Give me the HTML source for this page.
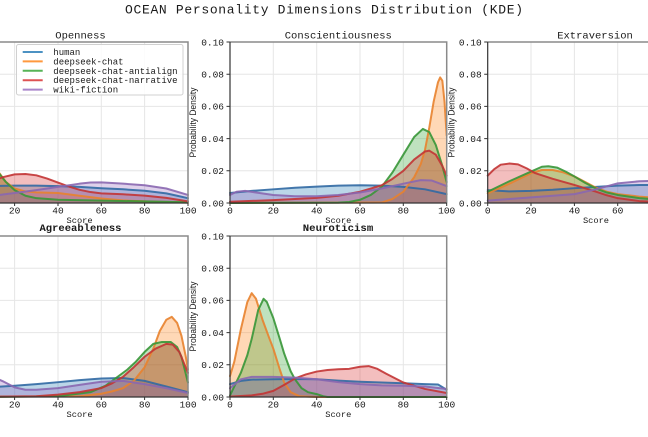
<!DOCTYPE html>
<html><head><meta charset="utf-8"><style>
html,body{margin:0;padding:0;background:#fff;}
svg{display:block;}
.t{font-family:"Liberation Mono",monospace;fill:#1a1a1a;}
.yl{font-family:"Liberation Sans",sans-serif;fill:#1a1a1a;font-size:9px;}
.g line{stroke:#e6e6e6;stroke-width:1;}
.f{fill-opacity:.3;stroke:none;}
.l{fill:none;stroke-width:2;stroke-opacity:.9;stroke-linejoin:round;stroke-linecap:round;}
.fb{fill:#1f77b4;} .fo{fill:#ff7f0e;} .fg{fill:#2ca02c;} .fr{fill:#d62728;} .fp{fill:#9467bd;}
.lb{stroke:#3169a3;} .lo{stroke:#e8822e;} .lg{stroke:#379637;} .lr{stroke:#c23434;} .lp{stroke:#8a67b0;}
</style></head><body>
<svg width="648" height="437" viewBox="0 0 648 437" xmlns="http://www.w3.org/2000/svg">
<rect width="648" height="437" fill="#fff"/>
<text class="t" x="324" y="13.5" font-size="13" text-anchor="middle" textLength="398" lengthAdjust="spacing">OCEAN Personality Dimensions Distribution (KDE)</text>

<!-- grids -->
<g class="g">
<line x1="14.6" y1="42" x2="14.6" y2="203"/><line x1="58" y1="42" x2="58" y2="203"/><line x1="101.3" y1="42" x2="101.3" y2="203"/><line x1="144.6" y1="42" x2="144.6" y2="203"/>
<line x1="0" y1="170.8" x2="188" y2="170.8"/><line x1="0" y1="138.6" x2="188" y2="138.6"/><line x1="0" y1="106.4" x2="188" y2="106.4"/><line x1="0" y1="74.2" x2="188" y2="74.2"/>
<line x1="273.3" y1="42" x2="273.3" y2="203"/><line x1="316.7" y1="42" x2="316.7" y2="203"/><line x1="360" y1="42" x2="360" y2="203"/><line x1="403.3" y1="42" x2="403.3" y2="203"/>
<line x1="230" y1="170.8" x2="446.7" y2="170.8"/><line x1="230" y1="138.6" x2="446.7" y2="138.6"/><line x1="230" y1="106.4" x2="446.7" y2="106.4"/><line x1="230" y1="74.2" x2="446.7" y2="74.2"/>
<line x1="531" y1="42" x2="531" y2="203"/><line x1="574.4" y1="42" x2="574.4" y2="203"/><line x1="617.7" y1="42" x2="617.7" y2="203"/><line x1="661" y1="42" x2="661" y2="203"/>
<line x1="487.7" y1="170.8" x2="648" y2="170.8"/><line x1="487.7" y1="138.6" x2="648" y2="138.6"/><line x1="487.7" y1="106.4" x2="648" y2="106.4"/><line x1="487.7" y1="74.2" x2="648" y2="74.2"/>
<line x1="14.6" y1="236" x2="14.6" y2="397"/><line x1="58" y1="236" x2="58" y2="397"/><line x1="101.3" y1="236" x2="101.3" y2="397"/><line x1="144.6" y1="236" x2="144.6" y2="397"/>
<line x1="0" y1="364.8" x2="188" y2="364.8"/><line x1="0" y1="332.6" x2="188" y2="332.6"/><line x1="0" y1="300.4" x2="188" y2="300.4"/><line x1="0" y1="268.2" x2="188" y2="268.2"/>
<line x1="273.3" y1="236" x2="273.3" y2="397"/><line x1="316.7" y1="236" x2="316.7" y2="397"/><line x1="360" y1="236" x2="360" y2="397"/><line x1="403.3" y1="236" x2="403.3" y2="397"/>
<line x1="230" y1="364.8" x2="446.7" y2="364.8"/><line x1="230" y1="332.6" x2="446.7" y2="332.6"/><line x1="230" y1="300.4" x2="446.7" y2="300.4"/><line x1="230" y1="268.2" x2="446.7" y2="268.2"/>
</g>

<!-- Openness -->
<g>
<polygon class="f fb" points="-28.7,203 -28.7,186.9 -7.03,186.09 14.63,185.61 36.3,185.61 57.97,186.09 79.63,186.9 101.3,188.19 122.97,189.31 144.63,190.76 166.3,193.34 177.13,195.75 187.97,198.17 187.97,203"/>
<polygon class="f fo" points="-28.7,203 -28.7,154.7 -17.87,161.14 -7.03,167.58 -0.53,173.21 5.97,182.07 14.63,188.51 25.47,191.41 36.3,192.37 57.97,193.02 79.63,195.75 101.3,198.49 122.97,200.42 144.63,201.39 166.3,202.2 187.97,202.68 187.97,203"/>
<polygon class="f fg" points="-28.7,203 -28.7,146.65 -17.87,156.31 -7.03,165.97 -0.53,174.02 5.97,182.07 14.63,190.12 25.47,195.75 36.3,198.17 57.97,199.78 101.3,200.58 144.63,201.39 187.97,202.2 187.97,203"/>
<polygon class="f fr" points="-28.7,203 -28.7,186.9 -17.87,183.68 -7.03,180.46 3.8,176.92 14.63,174.34 25.47,174.02 36.3,175.31 47.13,178.53 57.97,182.55 68.8,186.58 79.63,189.8 90.47,192.05 101.3,193.34 122.97,194.31 144.63,195.59 166.3,197.85 187.97,201.39 187.97,203"/>
<polygon class="f fp" points="-28.7,203 -28.7,198.17 -7.03,195.75 14.63,193.02 36.3,190.12 57.97,186.9 79.63,183.68 90.47,182.55 101.3,182.39 122.97,183.68 144.63,185.29 166.3,188.51 187.97,194.95 187.97,203"/>
<polyline class="l lb" points="-28.7,186.9 -7.03,186.09 14.63,185.61 36.3,185.61 57.97,186.09 79.63,186.9 101.3,188.19 122.97,189.31 144.63,190.76 166.3,193.34 177.13,195.75 187.97,198.17"/>
<polyline class="l lo" points="-28.7,154.7 -17.87,161.14 -7.03,167.58 -0.53,173.21 5.97,182.07 14.63,188.51 25.47,191.41 36.3,192.37 57.97,193.02 79.63,195.75 101.3,198.49 122.97,200.42 144.63,201.39 166.3,202.2 187.97,202.68"/>
<polyline class="l lg" points="-28.7,146.65 -17.87,156.31 -7.03,165.97 -0.53,174.02 5.97,182.07 14.63,190.12 25.47,195.75 36.3,198.17 57.97,199.78 101.3,200.58 144.63,201.39 187.97,202.2"/>
<polyline class="l lr" points="-28.7,186.9 -17.87,183.68 -7.03,180.46 3.8,176.92 14.63,174.34 25.47,174.02 36.3,175.31 47.13,178.53 57.97,182.55 68.8,186.58 79.63,189.8 90.47,192.05 101.3,193.34 122.97,194.31 144.63,195.59 166.3,197.85 187.97,201.39"/>
<polyline class="l lp" points="-28.7,198.17 -7.03,195.75 14.63,193.02 36.3,190.12 57.97,186.9 79.63,183.68 90.47,182.55 101.3,182.39 122.97,183.68 144.63,185.29 166.3,188.51 187.97,194.95"/>
</g>

<!-- Conscientiousness -->
<g>
<polygon class="f fb" points="230,203 230,193.02 251.67,190.92 273.33,189.31 295,187.7 316.67,186.58 338.33,185.61 360,185.29 381.67,185.61 403.33,186.9 425,189.31 446.67,194.14 446.67,203"/>
<polygon class="f fo" points="230,203 381.67,202.52 392.5,198.97 403.33,191.73 414.17,177.24 420.67,164.36 425,149.87 429.33,127.33 433.67,101.57 438,82.25 440.17,77.42 442.33,80.64 444.5,101.57 446.67,135.38 446.67,203"/>
<polygon class="f fg" points="230,203 338.33,202.68 349.17,202.03 360,199.78 370.83,194.95 381.67,186.9 392.5,172.41 403.33,154.7 414.17,136.99 422.83,128.94 429.33,132.16 435.83,145.04 442.33,165.97 446.67,182.07 446.67,203"/>
<polygon class="f fr" points="230,203 230,201.71 273.33,200.1 316.67,197.85 338.33,195.75 360,191.73 381.67,185.29 392.5,178.85 403.33,170.8 414.17,159.53 425,151.48 429.33,150.67 435.83,154.7 442.33,165.97 446.67,175.63 446.67,203"/>
<polygon class="f fp" points="230,203 230,194.95 236.5,191.73 245.17,190.92 256,192.53 273.33,194.95 295,196.24 316.67,196.24 338.33,194.95 360,192.53 381.67,188.51 403.33,183.68 420.67,180.14 431.5,180.46 446.67,186.09 446.67,203"/>
<polyline class="l lb" points="230,193.02 251.67,190.92 273.33,189.31 295,187.7 316.67,186.58 338.33,185.61 360,185.29 381.67,185.61 403.33,186.9 425,189.31 446.67,194.14"/>
<polyline class="l lo" points="230,203 381.67,202.52 392.5,198.97 403.33,191.73 414.17,177.24 420.67,164.36 425,149.87 429.33,127.33 433.67,101.57 438,82.25 440.17,77.42 442.33,80.64 444.5,101.57 446.67,135.38"/>
<polyline class="l lg" points="230,203 338.33,202.68 349.17,202.03 360,199.78 370.83,194.95 381.67,186.9 392.5,172.41 403.33,154.7 414.17,136.99 422.83,128.94 429.33,132.16 435.83,145.04 442.33,165.97 446.67,182.07"/>
<polyline class="l lr" points="230,201.71 273.33,200.1 316.67,197.85 338.33,195.75 360,191.73 381.67,185.29 392.5,178.85 403.33,170.8 414.17,159.53 425,151.48 429.33,150.67 435.83,154.7 442.33,165.97 446.67,175.63"/>
<polyline class="l lp" points="230,194.95 236.5,191.73 245.17,190.92 256,192.53 273.33,194.95 295,196.24 316.67,196.24 338.33,194.95 360,192.53 381.67,188.51 403.33,183.68 420.67,180.14 431.5,180.46 446.67,186.09"/>
</g>

<!-- Extraversion -->
<g>
<polygon class="f fb" points="487.7,203 487.7,190.12 509.37,191.41 531.03,190.92 552.7,189.8 574.37,188.19 596.03,186.9 617.7,185.61 639.37,184.97 661.03,184.97 682.7,186.9 704.37,191.73 704.37,203"/>
<polygon class="f fo" points="487.7,203 487.7,193.34 509.37,183.68 531.03,173.21 541.87,170 552.7,170 563.53,172.41 574.37,176.43 585.2,182.07 596.03,187.7 606.87,191.73 617.7,194.14 639.37,196.56 661.03,198.17 682.7,199.78 704.37,201.39 704.37,203"/>
<polygon class="f fg" points="487.7,203 487.7,191.73 509.37,181.26 531.03,171.6 541.87,166.77 548.37,166.29 557.03,167.58 565.7,171.6 574.37,176.43 585.2,182.87 596.03,188.51 606.87,192.53 617.7,194.95 639.37,198.17 661.03,199.78 704.37,201.39 704.37,203"/>
<polygon class="f fr" points="487.7,203 487.7,175.63 494.2,169.19 500.7,164.68 509.37,163.55 518.03,164.36 526.7,168.38 535.37,173.21 552.7,178.85 574.37,184.97 596.03,191.73 606.87,195.27 617.7,198.17 639.37,201.07 661.03,202.2 704.37,203"/>
<polygon class="f fp" points="487.7,203 487.7,200.58 509.37,198.97 531.03,197.36 552.7,195.75 574.37,194.14 596.03,189.31 617.7,183.36 639.37,181.26 661.03,180.46 682.7,182.07 704.37,188.51 704.37,203"/>
<polyline class="l lb" points="487.7,190.12 509.37,191.41 531.03,190.92 552.7,189.8 574.37,188.19 596.03,186.9 617.7,185.61 639.37,184.97 661.03,184.97 682.7,186.9 704.37,191.73"/>
<polyline class="l lo" points="487.7,193.34 509.37,183.68 531.03,173.21 541.87,170 552.7,170 563.53,172.41 574.37,176.43 585.2,182.07 596.03,187.7 606.87,191.73 617.7,194.14 639.37,196.56 661.03,198.17 682.7,199.78 704.37,201.39"/>
<polyline class="l lg" points="487.7,191.73 509.37,181.26 531.03,171.6 541.87,166.77 548.37,166.29 557.03,167.58 565.7,171.6 574.37,176.43 585.2,182.87 596.03,188.51 606.87,192.53 617.7,194.95 639.37,198.17 661.03,199.78 704.37,201.39"/>
<polyline class="l lr" points="487.7,175.63 494.2,169.19 500.7,164.68 509.37,163.55 518.03,164.36 526.7,168.38 535.37,173.21 552.7,178.85 574.37,184.97 596.03,191.73 606.87,195.27 617.7,198.17 639.37,201.07 661.03,202.2 704.37,203"/>
<polyline class="l lp" points="487.7,200.58 509.37,198.97 531.03,197.36 552.7,195.75 574.37,194.14 596.03,189.31 617.7,183.36 639.37,181.26 661.03,180.46 682.7,182.07 704.37,188.51"/>
</g>

<!-- Agreeableness -->
<g>
<polygon class="f fb" points="-28.7,397 -28.7,388.14 -7.03,387.02 14.63,385.73 36.3,384.12 57.97,382.19 79.63,380.09 101.3,378.48 122.97,378 144.63,380.9 166.3,386.53 187.97,392.17 187.97,397"/>
<polygon class="f fo" points="-28.7,397 79.63,396.2 101.3,393.78 112.13,391.36 122.97,388.14 133.8,380.9 144.63,367.21 153.3,348.7 159.8,330.99 166.3,319.72 171.72,316.82 177.13,322.94 181.47,335.82 185.8,356.75 187.97,369.63 187.97,397"/>
<polygon class="f fg" points="-28.7,397 57.97,396.2 90.47,392.17 105.63,385.73 116.47,377.68 127.3,369.63 135.97,361.58 144.63,351.92 153.3,343.87 161.97,341.94 170.63,341.94 177.13,347.09 181.47,356.75 187.97,382.51 187.97,397"/>
<polygon class="f fr" points="-28.7,397 36.3,396.2 57.97,394.58 79.63,392.17 101.3,388.14 112.13,383.31 122.97,376.87 133.8,367.21 144.63,356.75 155.47,348.7 166.3,343.87 172.8,344.67 179.3,351.92 187.97,372.85 187.97,397"/>
<polygon class="f fp" points="-28.7,397 -28.7,376.07 -17.87,375.26 -7.03,376.87 3.8,381.7 14.63,387.34 25.47,389.75 36.3,389.75 57.97,388.14 79.63,384.92 101.3,381.7 122.97,380.9 144.63,384.12 166.3,388.14 187.97,392.97 187.97,397"/>
<polyline class="l lb" points="-28.7,388.14 -7.03,387.02 14.63,385.73 36.3,384.12 57.97,382.19 79.63,380.09 101.3,378.48 122.97,378 144.63,380.9 166.3,386.53 187.97,392.17"/>
<polyline class="l lo" points="-28.7,397 79.63,396.2 101.3,393.78 112.13,391.36 122.97,388.14 133.8,380.9 144.63,367.21 153.3,348.7 159.8,330.99 166.3,319.72 171.72,316.82 177.13,322.94 181.47,335.82 185.8,356.75 187.97,369.63"/>
<polyline class="l lg" points="-28.7,397 57.97,396.2 90.47,392.17 105.63,385.73 116.47,377.68 127.3,369.63 135.97,361.58 144.63,351.92 153.3,343.87 161.97,341.94 170.63,341.94 177.13,347.09 181.47,356.75 187.97,382.51"/>
<polyline class="l lr" points="-28.7,397 36.3,396.2 57.97,394.58 79.63,392.17 101.3,388.14 112.13,383.31 122.97,376.87 133.8,367.21 144.63,356.75 155.47,348.7 166.3,343.87 172.8,344.67 179.3,351.92 187.97,372.85"/>
<polyline class="l lp" points="-28.7,376.07 -17.87,375.26 -7.03,376.87 3.8,381.7 14.63,387.34 25.47,389.75 36.3,389.75 57.97,388.14 79.63,384.92 101.3,381.7 122.97,380.9 144.63,384.12 166.3,388.14 187.97,392.97"/>
</g>

<!-- Neuroticism -->
<g>
<polygon class="f fb" points="230,397 230,384.12 240.83,380.9 251.67,379.61 273.33,379.29 295,378.97 316.67,379.29 338.33,380.58 360,381.7 381.67,382.51 403.33,383.31 425,384.12 438,384.44 446.67,389.75 446.67,397"/>
<polygon class="f fo" points="230,397 230,376.07 234.33,361.58 240.83,329.38 247.33,302.01 251.67,293.15 256,298.79 262.5,319.72 269,337.43 273.33,348.7 279.83,369.63 284.17,382.51 290.67,392.17 299.33,396.2 316.67,397"/>
<polygon class="f fg" points="230,397 230,395.39 240.83,372.85 247.33,355.14 251.67,339.04 258.17,310.06 263.58,298.79 266.83,302.01 273.33,318.11 279.83,339.04 284.17,353.53 290.67,371.24 295,379.29 301.5,388.14 308,392.17 316.67,394.1 323.17,396.2 327.5,397"/>
<polygon class="f fr" points="230,397 230,396.68 251.67,395.39 262.5,393.78 273.33,390.88 284.17,384.92 295,378.48 305.83,374.46 316.67,371.56 327.5,369.95 338.33,369.31 349.17,368.82 360,366.73 368.67,366.09 377.33,368.82 386,373.65 403.33,382.51 425,388.95 446.67,392.97 446.67,397"/>
<polygon class="f fp" points="230,397 230,388.14 240.83,379.29 251.67,376.87 273.33,376.87 295,377.68 316.67,379.29 338.33,382.19 360,384.12 381.67,385.41 403.33,385.73 425,386.53 446.67,388.95 446.67,397"/>
<polyline class="l lb" points="230,384.12 240.83,380.9 251.67,379.61 273.33,379.29 295,378.97 316.67,379.29 338.33,380.58 360,381.7 381.67,382.51 403.33,383.31 425,384.12 438,384.44 446.67,389.75"/>
<polyline class="l lo" points="230,376.07 234.33,361.58 240.83,329.38 247.33,302.01 251.67,293.15 256,298.79 262.5,319.72 269,337.43 273.33,348.7 279.83,369.63 284.17,382.51 290.67,392.17 299.33,396.2 316.67,397 446.67,397"/>
<polyline class="l lg" points="230,395.39 240.83,372.85 247.33,355.14 251.67,339.04 258.17,310.06 263.58,298.79 266.83,302.01 273.33,318.11 279.83,339.04 284.17,353.53 290.67,371.24 295,379.29 301.5,388.14 308,392.17 316.67,394.1 323.17,396.2 327.5,397 446.67,397"/>
<polyline class="l lr" points="230,396.68 251.67,395.39 262.5,393.78 273.33,390.88 284.17,384.92 295,378.48 305.83,374.46 316.67,371.56 327.5,369.95 338.33,369.31 349.17,368.82 360,366.73 368.67,366.09 377.33,368.82 386,373.65 403.33,382.51 425,388.95 446.67,392.97"/>
<polyline class="l lp" points="230,388.14 240.83,379.29 251.67,376.87 273.33,376.87 295,377.68 316.67,379.29 338.33,382.19 360,384.12 381.67,385.41 403.33,385.73 425,386.53 446.67,388.95"/>
</g>

<!-- spines -->
<g fill="none">
<path d="M-28.7,42 H188 V203" stroke="#8a8a8a" stroke-width="1.5"/>
<path d="M0,203 H188" stroke="#333" stroke-width="1.2"/>
<path d="M230,42 H446.7 V203" stroke="#8a8a8a" stroke-width="1.5"/>
<path d="M230,42 V203 H446.7" stroke="#333" stroke-width="1.2"/>
<path d="M487.7,42 H648" stroke="#8a8a8a" stroke-width="1.5"/>
<path d="M487.7,42 V203 H648" stroke="#333" stroke-width="1.2"/>
<path d="M-28.7,236 H188 V397" stroke="#8a8a8a" stroke-width="1.5"/>
<path d="M0,397 H188" stroke="#333" stroke-width="1.2"/>
<path d="M230,236 H446.7 V397" stroke="#8a8a8a" stroke-width="1.5"/>
<path d="M230,236 V397 H446.7" stroke="#333" stroke-width="1.2"/>
</g>
<!-- ticks -->
<g stroke="#333" stroke-width="1" fill="none">
<path d="M14.6,203v3M58,203v3M101.3,203v3M144.6,203v3M188,203v3"/>
<path d="M230,203v3M273.3,203v3M316.7,203v3M360,203v3M403.3,203v3M446.7,203v3"/>
<path d="M226.5,203h3.5M226.5,170.8h3.5M226.5,138.6h3.5M226.5,106.4h3.5M226.5,74.2h3.5M226.5,42h3.5"/>
<path d="M487.7,203v3M531,203v3M574.4,203v3M617.7,203v3"/>
<path d="M484.2,203h3.5M484.2,170.8h3.5M484.2,138.6h3.5M484.2,106.4h3.5M484.2,74.2h3.5M484.2,42h3.5"/>
<path d="M14.6,397v3M58,397v3M101.3,397v3M144.6,397v3M188,397v3"/>
<path d="M230,397v3M273.3,397v3M316.7,397v3M360,397v3M403.3,397v3M446.7,397v3"/>
<path d="M226.5,397h3.5M226.5,364.8h3.5M226.5,332.6h3.5M226.5,300.4h3.5M226.5,268.2h3.5M226.5,236h3.5"/>
</g>

<!-- tick labels -->
<g class="t" font-size="9.5" text-anchor="middle">
<text x="14.6" y="213.5">20</text><text x="58" y="213.5">40</text><text x="101.3" y="213.5">60</text><text x="144.6" y="213.5">80</text><text x="188" y="213.5">100</text>
<text x="230" y="213.5">0</text><text x="273.3" y="213.5">20</text><text x="316.7" y="213.5">40</text><text x="360" y="213.5">60</text><text x="403.3" y="213.5">80</text><text x="446.7" y="213.5">100</text>
<text x="487.7" y="213.5">0</text><text x="531" y="213.5">20</text><text x="574.4" y="213.5">40</text><text x="617.7" y="213.5">60</text>
<text x="14.6" y="407.5">20</text><text x="58" y="407.5">40</text><text x="101.3" y="407.5">60</text><text x="144.6" y="407.5">80</text><text x="188" y="407.5">100</text>
<text x="230" y="407.5">0</text><text x="273.3" y="407.5">20</text><text x="316.7" y="407.5">40</text><text x="360" y="407.5">60</text><text x="403.3" y="407.5">80</text><text x="446.7" y="407.5">100</text>
</g>
<g class="t" font-size="9.5" text-anchor="end">
<text x="224" y="206.3">0.00</text><text x="224" y="174.1">0.02</text><text x="224" y="141.9">0.04</text><text x="224" y="109.7">0.06</text><text x="224" y="77.5">0.08</text><text x="224" y="45.3">0.10</text>
<text x="481.7" y="206.3">0.00</text><text x="481.7" y="174.1">0.02</text><text x="481.7" y="141.9">0.04</text><text x="481.7" y="109.7">0.06</text><text x="481.7" y="77.5">0.08</text><text x="481.7" y="45.3">0.10</text>
<text x="224" y="400.3">0.00</text><text x="224" y="368.1">0.02</text><text x="224" y="335.9">0.04</text><text x="224" y="303.7">0.06</text><text x="224" y="271.5">0.08</text><text x="224" y="239.3">0.10</text>
</g>

<!-- axis labels -->
<g class="t" font-size="8.7" text-anchor="middle">
<text x="79.6" y="223">Score</text><text x="338.3" y="223">Score</text><text x="596" y="223">Score</text>
<text x="79.6" y="417">Score</text><text x="338.3" y="417">Score</text>
</g>
<text class="yl" transform="translate(196,122.5) rotate(-90)" text-anchor="middle" textLength="70" lengthAdjust="spacingAndGlyphs">Probability Density</text>
<text class="yl" transform="translate(454.7,122.5) rotate(-90)" text-anchor="middle" textLength="70" lengthAdjust="spacingAndGlyphs">Probability Density</text>
<text class="yl" transform="translate(196,316.5) rotate(-90)" text-anchor="middle" textLength="70" lengthAdjust="spacingAndGlyphs">Probability Density</text>

<!-- subplot titles -->
<g class="t" font-size="10.5" text-anchor="middle">
<text x="80.5" y="38.5">Openness</text>
<text x="338.3" y="38.5">Conscientiousness</text>
<text x="595" y="38.5">Extraversion</text>
<text x="80.5" y="231" font-weight="bold" textLength="82" lengthAdjust="spacingAndGlyphs">Agreeableness</text>
<text x="338" y="231" font-weight="bold" textLength="70.5" lengthAdjust="spacingAndGlyphs">Neuroticism</text>
</g>

<!-- legend -->
<rect x="16.5" y="44.5" width="166.5" height="50.5" rx="2" fill="#fff" fill-opacity=".85" stroke="#d0d0d0" stroke-width="1"/>
<g stroke-width="2" stroke-opacity=".8">
<line x1="22.7" y1="52" x2="42.7" y2="52" stroke="#1f77b4"/>
<line x1="22.7" y1="61.4" x2="42.7" y2="61.4" stroke="#ff7f0e"/>
<line x1="22.7" y1="70.8" x2="42.7" y2="70.8" stroke="#2ca02c"/>
<line x1="22.7" y1="80.2" x2="42.7" y2="80.2" stroke="#d62728"/>
<line x1="22.7" y1="89.6" x2="42.7" y2="89.6" stroke="#9467bd"/>
</g>
<g class="t" font-size="9">
<text x="53.3" y="55">human</text>
<text x="53.3" y="64.4">deepseek-chat</text>
<text x="53.3" y="73.8">deepseek-chat-antialign</text>
<text x="53.3" y="83.2">deepseek-chat-narrative</text>
<text x="53.3" y="92.6">wiki-fiction</text>
</g>
</svg>
</body></html>
